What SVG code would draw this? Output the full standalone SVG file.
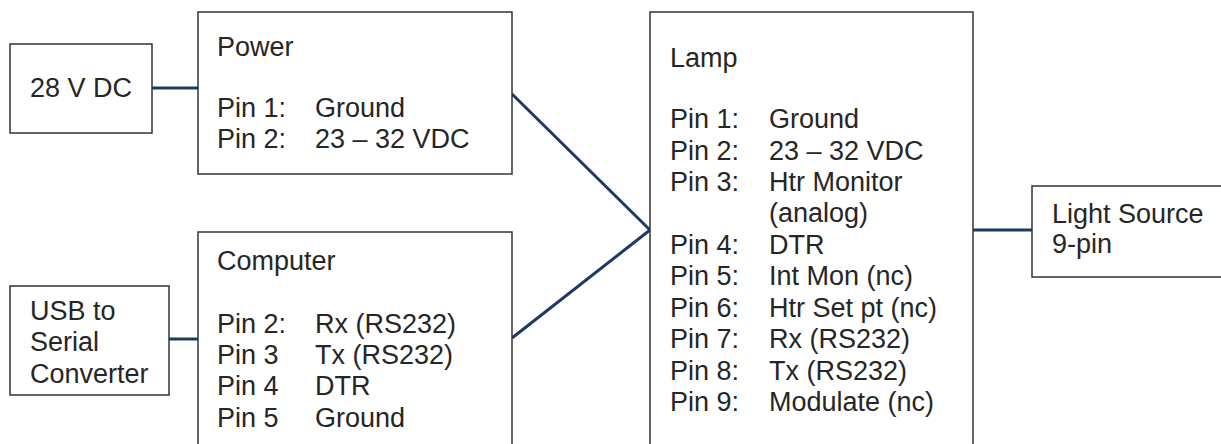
<svg xmlns="http://www.w3.org/2000/svg" width="1221" height="444" viewBox="0 0 1221 444">
<style>
.box{fill:#ffffff;stroke:#333333;stroke-width:1.5}
.t{font-family:"Liberation Sans",Arial,sans-serif;font-size:27px;fill:#262626}
.c{stroke:#1f3864;stroke-width:3;fill:none}
</style>
<rect width="1221" height="444" fill="#ffffff"/>
<g id="connectors">
<line class="c" x1="152" y1="88" x2="198" y2="88"/>
<line class="c" x1="169" y1="339" x2="198" y2="339"/>
<line class="c" x1="512" y1="94" x2="650" y2="230"/>
<line class="c" x1="512" y1="338" x2="650" y2="230"/>
<line class="c" x1="973" y1="230" x2="1032" y2="230"/>
</g>
<g id="dc28">
<rect class="box" x="10" y="44" width="142" height="89"/>
<text class="t" x="30" y="97">28 V DC</text>
</g>
<g id="power">
<rect class="box" x="198" y="12" width="314" height="162"/>
<text class="t" x="217" y="56">Power</text>
<text class="t" x="217" y="117">Pin 1:</text><text class="t" x="315" y="117">Ground</text>
<text class="t" x="217" y="148">Pin 2:</text><text class="t" x="315" y="148">23 – 32 VDC</text>
</g>
<g id="usb">
<rect class="box" x="10" y="286" width="159" height="109"/>
<text class="t" x="30" y="320">USB to</text>
<text class="t" x="30" y="351">Serial</text>
<text class="t" x="30" y="383">Converter</text>
</g>
<g id="computer">
<rect class="box" x="198" y="232" width="314" height="230"/>
<text class="t" x="217" y="270">Computer</text>
<text class="t" x="217" y="333">Pin 2:</text><text class="t" x="315" y="333">Rx (RS232)</text>
<text class="t" x="217" y="364">Pin 3</text><text class="t" x="315" y="364">Tx (RS232)</text>
<text class="t" x="217" y="395">Pin 4</text><text class="t" x="315" y="395">DTR</text>
<text class="t" x="217" y="427">Pin 5</text><text class="t" x="315" y="427">Ground</text>
</g>
<g id="lamp">
<rect class="box" x="650" y="12" width="323" height="450"/>
<text class="t" x="670" y="67">Lamp</text>
<text class="t" x="670" y="128">Pin 1:</text><text class="t" x="769" y="128">Ground</text>
<text class="t" x="670" y="160">Pin 2:</text><text class="t" x="769" y="160">23 – 32 VDC</text>
<text class="t" x="670" y="191">Pin 3:</text><text class="t" x="769" y="191">Htr Monitor</text>
<text class="t" x="769" y="222">(analog)</text>
<text class="t" x="670" y="254">Pin 4:</text><text class="t" x="769" y="254">DTR</text>
<text class="t" x="670" y="285">Pin 5:</text><text class="t" x="769" y="285">Int Mon (nc)</text>
<text class="t" x="670" y="317">Pin 6:</text><text class="t" x="769" y="317">Htr Set pt (nc)</text>
<text class="t" x="670" y="348">Pin 7:</text><text class="t" x="769" y="348">Rx (RS232)</text>
<text class="t" x="670" y="380">Pin 8:</text><text class="t" x="769" y="380">Tx (RS232)</text>
<text class="t" x="670" y="411">Pin 9:</text><text class="t" x="769" y="411">Modulate (nc)</text>
</g>
<g id="lightsource">
<rect class="box" x="1032" y="186" width="200" height="91"/>
<text class="t" x="1052" y="223">Light Source</text>
<text class="t" x="1052" y="253">9-pin</text>
</g>
</svg>
